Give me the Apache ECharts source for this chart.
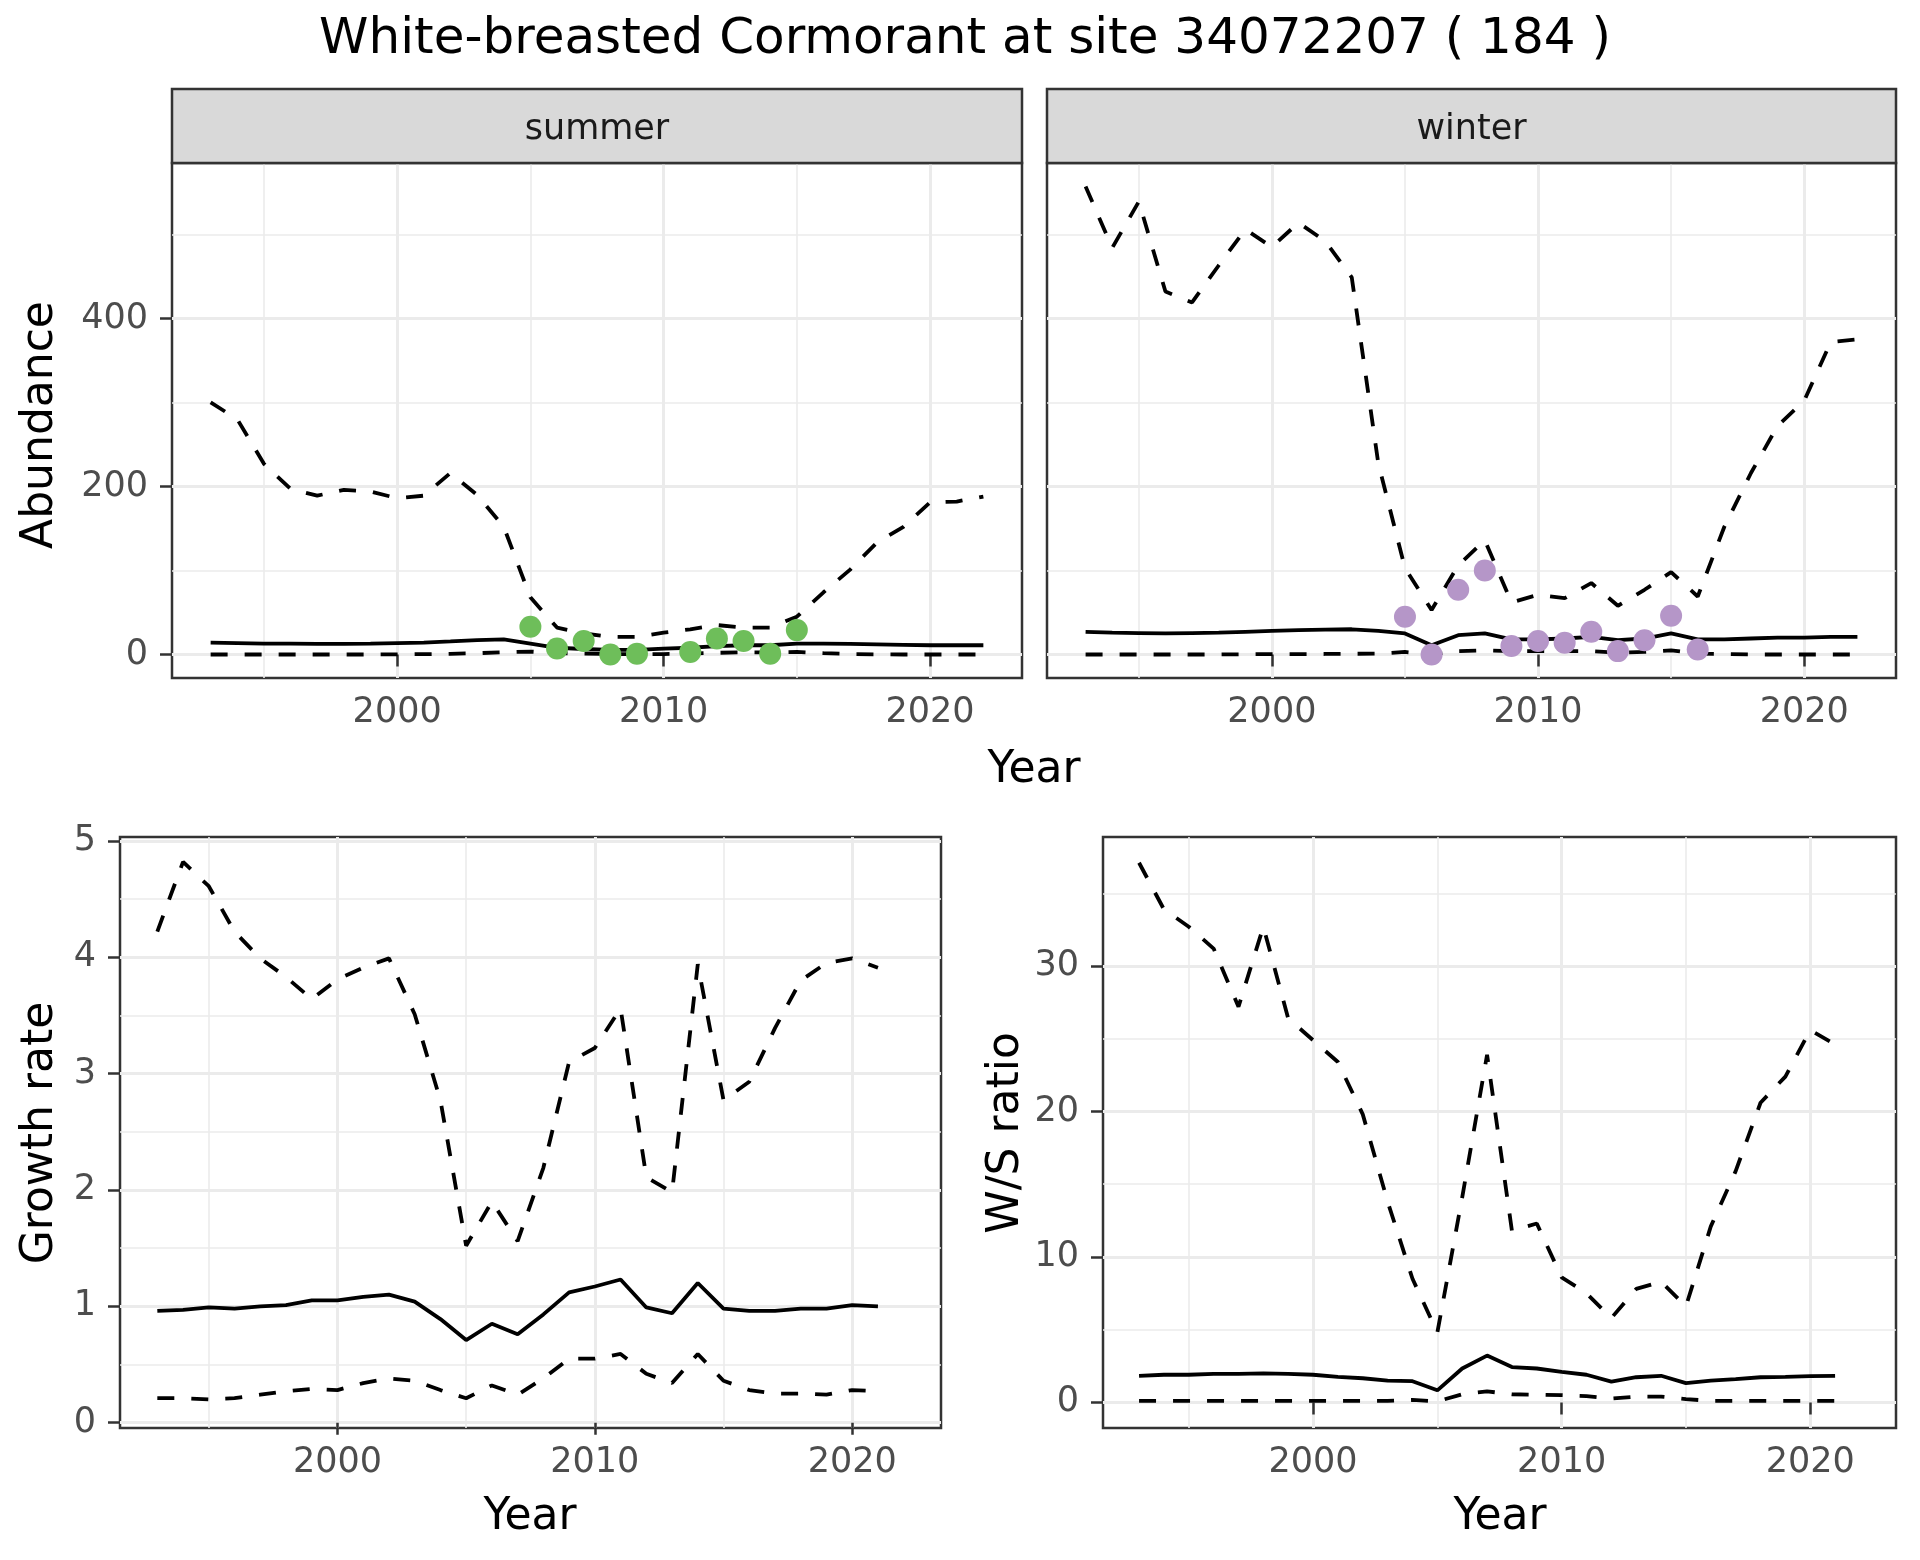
<!DOCTYPE html>
<html>
<head>
<meta charset="utf-8">
<script src="https://cdn.jsdelivr.net/npm/echarts@6/dist/echarts.min.js"></script>
<style>
html,body{margin:0;padding:0;background:#fff;}
#chart{width:1920px;height:1560px;}
</style>
</head>
<body>
<div id="chart"></div>
<script>
// ---------------- data ----------------
const yearsSeason = [1993,1994,1995,1996,1997,1998,1999,2000,2001,2002,2003,2004,2005,2006,2007,2008,2009,2010,2011,2012,2013,2014,2015,2016,2017,2018,2019,2020,2021,2022];
const summerUpper = [300,280,227,197,189,196,194,186,189,216,190,152,68,32,25,21,21,26,30,35,32,32,45,74,101,133,152,181,182,188];
const summerMean  = [14,13.5,13,12.8,12.6,12.6,12.8,13.5,14.2,15.5,17,18,13,8,6.5,5.5,5.5,7,8,10,11,11,13,13,12.5,12,11.5,11,11,11];
const summerLower = [0,0,0,0,0,0,0,0.2,0.4,0.8,1.5,2.7,3.5,1.5,1.2,0.5,0.3,0.5,1,2,2.5,2.5,3,1.5,0.5,0.2,0,0,0,0];
const summerObsYears = [2005,2006,2007,2008,2009,2011,2012,2013,2014,2015];
const summerObs      = [33,7,16,0,1,3,19,16,1,29];

const winterUpper = [557,484,539,432,419,463,506,485,514,492,449,227,103,53,106,136,62,71,67,85,58,77,98,69,152,216,272,302,372,375];
const winterMean  = [27,26,25.5,25,25.5,26,27,28,29,29.5,30,28,25,11,23,25,18,18,19,21,17,19,25,18,18,19,20,20,21,21];
const winterLower = [0,0,0,0,0,0,0.3,0.5,0.5,0.6,0.8,1,3,0,4,5,4,4,4,4,2,3,5,1,0.5,0,0,0,0,0];
const winterObsYears = [2005,2006,2007,2008,2009,2010,2011,2012,2013,2014,2015,2016];
const winterObs      = [45,0,77,100,10,16,14,27,4,17,46,6];

const yearsRatio = [1993,1994,1995,1996,1997,1998,1999,2000,2001,2002,2003,2004,2005,2006,2007,2008,2009,2010,2011,2012,2013,2014,2015,2016,2017,2018,2019,2020,2021];
const growthUpper = [4.22,4.82,4.61,4.22,3.99,3.83,3.64,3.81,3.91,3.99,3.51,2.77,1.52,1.90,1.56,2.19,3.10,3.22,3.56,2.11,1.98,3.94,2.77,2.93,3.39,3.80,3.95,3.99,3.91];
const growthMean  = [0.96,0.97,0.99,0.98,1.00,1.01,1.05,1.05,1.08,1.10,1.04,0.89,0.71,0.85,0.76,0.93,1.12,1.17,1.23,0.99,0.94,1.20,0.98,0.96,0.96,0.98,0.98,1.01,1.00];
const growthLower = [0.21,0.21,0.20,0.21,0.24,0.27,0.29,0.28,0.34,0.38,0.36,0.28,0.21,0.32,0.24,0.38,0.55,0.55,0.59,0.42,0.34,0.59,0.36,0.28,0.25,0.25,0.24,0.28,0.27];

const wsUpper = [37.1,33.9,32.7,31.2,27.2,32.7,26.4,24.9,23.4,19.8,13.8,8.5,4.8,14.1,23.9,11.8,12.3,8.6,7.5,5.8,7.8,8.3,6.6,12.1,15.9,20.6,22.4,25.6,24.6];
const wsMean  = [1.83,1.9,1.9,1.96,1.96,2.0,1.96,1.9,1.76,1.66,1.5,1.46,0.83,2.33,3.22,2.43,2.33,2.1,1.9,1.43,1.73,1.83,1.33,1.5,1.6,1.73,1.76,1.8,1.83];
const wsLower = [0.1,0.1,0.1,0.1,0.1,0.1,0.1,0.1,0.1,0.1,0.1,0.17,0.07,0.56,0.76,0.56,0.53,0.5,0.43,0.27,0.4,0.4,0.23,0.1,0.1,0.1,0.1,0.1,0.1];

const xMajor = [2000,2010,2020];
const xMinor = [1995,2005,2015];
const abundMajor = [0,200,400];
const abundMinor = [100,300,500];
const growthMajor = [0,1,2,3,4,5];
const growthMinor = [0.5,1.5,2.5,3.5,4.5];
const wsMajor = [0,10,20,30];
const wsMinor = [5,15,25,35];

const titleText = 'White-breasted Cormorant at site 34072207 ( 184 )';
const stripLabels = ['summer','winter'];

// ---------------- styling ----------------
const FONT = 'DejaVu Sans';
const TICK_FS = 35, AXT_FS = 44;
const XMIN = 1991.55, XMAX = 2023.45;
const grids = [
  {left:172, top:163, width:850, height:515},
  {left:1047, top:163, width:849, height:515},
  {left:120, top:837, width:821, height:591},
  {left:1103, top:837, width:793, height:591}
];
const yRanges = [[-28,585],[-28,585],[-0.046,5.033],[-1.76,38.87]];
const yMajors = [abundMajor, abundMajor, growthMajor, wsMajor];
const yMinors = [abundMinor, abundMinor, growthMinor, wsMinor];
const yLabelShow = [true,false,true,true];

const pair = (xs, ys) => xs.map((x,i)=>[x, ys[i]]);
const plain = v => String(v);

const xAxes = [], yAxes = [];
grids.forEach((g,i)=>{
  xAxes.push({gridIndex:i, type:'value', min:XMIN, max:XMAX, position:'bottom',
    axisLine:{show:false},
    axisTick:{show:true, length:12, customValues:xMajor, lineStyle:{color:'#333333', width:2.5}},
    axisLabel:{show:true, customValues:xMajor, formatter:plain, margin:17, fontSize:TICK_FS, color:'#4D4D4D', fontFamily:FONT},
    splitLine:{show:true, lineStyle:{color:'#EBEBEB', width:3}}
  });
  xAxes.push({gridIndex:i, type:'value', min:XMIN, max:XMAX, position:'top',
    axisLine:{show:false},
    axisTick:{show:false, customValues:xMinor},
    axisLabel:{show:false, customValues:xMinor},
    splitLine:{show:true, lineStyle:{color:'#EBEBEB', width:1.6}}
  });
  yAxes.push({gridIndex:i, type:'value', min:yRanges[i][0], max:yRanges[i][1], position:'left',
    axisLine:{show:false},
    axisTick:{show:yLabelShow[i], length:12, customValues:yMajors[i], lineStyle:{color:'#333333', width:2.5}},
    axisLabel:{show:yLabelShow[i], customValues:yMajors[i], formatter:plain, margin:24, fontSize:TICK_FS, color:'#4D4D4D', fontFamily:FONT},
    splitLine:{show:true, lineStyle:{color:'#EBEBEB', width:3}}
  });
  yAxes.push({gridIndex:i, type:'value', min:yRanges[i][0], max:yRanges[i][1], position:'right',
    axisLine:{show:false},
    axisTick:{show:false, customValues:yMinors[i]},
    axisLabel:{show:false, customValues:yMinors[i]},
    splitLine:{show:true, lineStyle:{color:'#EBEBEB', width:1.6}}
  });
});

const DASH = [17,17];
function line(i, xs, ys, dashed){
  return {type:'line', xAxisIndex:2*i, yAxisIndex:2*i, data:pair(xs,ys), showSymbol:false, symbol:'none',
    lineStyle:{color:'#000000', width:3.8, type: dashed ? DASH : 'solid'}, z:3, silent:true};
}
function pts(i, xs, ys, color){
  return {type:'scatter', xAxisIndex:2*i, yAxisIndex:2*i, data:pair(xs,ys), symbolSize:22,
    itemStyle:{color:color, opacity:1}, z:5, silent:true};
}

const series = [
  line(0, yearsSeason, summerUpper, true), line(0, yearsSeason, summerMean, false), line(0, yearsSeason, summerLower, true),
  pts(0, summerObsYears, summerObs, '#6EBE5A'),
  line(1, yearsSeason, winterUpper, true), line(1, yearsSeason, winterMean, false), line(1, yearsSeason, winterLower, true),
  pts(1, winterObsYears, winterObs, '#B596C8'),
  line(2, yearsRatio, growthUpper, true), line(2, yearsRatio, growthMean, false), line(2, yearsRatio, growthLower, true),
  line(3, yearsRatio, wsUpper, true), line(3, yearsRatio, wsMean, false), line(3, yearsRatio, wsLower, true)
];

function txt(x,y,s,size,opts){
  return Object.assign({type:'text', x:x, y:y, silent:true,
    style:{text:s, fontSize:size, fontFamily:FONT, fill:'#000000', textAlign:'center', textVerticalAlign:'middle'}}, opts||{});
}
const graphics = [
  txt(965, 40, titleText, 50),
  txt(1034, 771, 'Year', AXT_FS),
  txt(530, 1518, 'Year', AXT_FS),
  txt(1500, 1518, 'Year', AXT_FS),
  txt(41, 425, 'Abundance', AXT_FS, {rotation:Math.PI/2}),
  txt(41, 1133, 'Growth rate', AXT_FS, {rotation:Math.PI/2}),
  txt(1007, 1133, 'W/S ratio', AXT_FS, {rotation:Math.PI/2})
];
[0,1].forEach(i=>{
  const g = grids[i];
  graphics.push({type:'rect', shape:{x:g.left, y:89, width:g.width, height:g.top-89}, silent:true,
    style:{fill:'#D9D9D9', stroke:'#333333', lineWidth:2.5}, z:10});
  const t = txt(g.left+g.width/2, 130, stripLabels[i], TICK_FS, {z:11});
  t.style.fill = '#1A1A1A';
  graphics.push(t);
});

const chart = echarts.init(document.getElementById('chart'), null, {renderer:'canvas', width:1920, height:1560});
chart.setOption({
  animation:false,
  backgroundColor:'#FFFFFF',
  grid: grids.map(g=>Object.assign({show:true, borderColor:'#333333', borderWidth:2.5, backgroundColor:'#FFFFFF', containLabel:false, outerBoundsMode:'none'}, g)),
  xAxis:xAxes,
  yAxis:yAxes,
  series:series,
  graphic:graphics
});
</script>
</body>
</html>
